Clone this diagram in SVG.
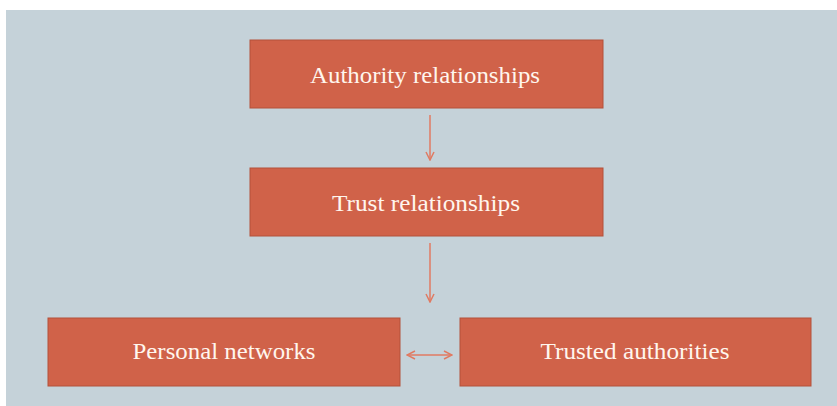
<svg xmlns="http://www.w3.org/2000/svg" width="837" height="406" viewBox="0 0 837 406">
<style>
.box{fill:#D06249;stroke:#B4503A;stroke-width:1}
.lbl{font-family:"Liberation Serif","DejaVu Serif",serif;font-size:23px;fill:#FFF6EE;text-anchor:middle}
.con{stroke:#E07A62;stroke-width:1.5;fill:none}
</style>
<defs>
<marker id="ah" viewBox="0 0 10 10" refX="9" refY="5" markerWidth="10" markerHeight="10" markerUnits="userSpaceOnUse" orient="auto-start-reverse">
<path d="M1,1 L9,5 L1,9" fill="none" stroke="#E07A62" stroke-width="1.5"/>
</marker>
</defs>
<rect x="0" y="0" width="837" height="406" fill="#FFFFFF"/>
<rect x="6" y="10" width="831" height="396" fill="#C5D2D9"/>
<g id="connectors">
<line class="con" x1="430" y1="115" x2="430" y2="160" marker-end="url(#ah)"/>
<line class="con" x1="430" y1="243" x2="430" y2="302" marker-end="url(#ah)"/>
<line class="con" x1="407" y1="355" x2="452" y2="355" marker-start="url(#ah)" marker-end="url(#ah)"/>
</g>
<g id="authority">
<rect class="box" x="250" y="40" width="353" height="68"/>
<text class="lbl" x="425" y="83" textLength="230" lengthAdjust="spacingAndGlyphs">Authority relationships</text>
</g>
<g id="trust">
<rect class="box" x="250" y="168" width="353" height="68"/>
<text class="lbl" x="426" y="211" textLength="188" lengthAdjust="spacingAndGlyphs">Trust relationships</text>
</g>
<g id="personal">
<rect class="box" x="48" y="318" width="352" height="68"/>
<text class="lbl" x="224" y="359" textLength="183" lengthAdjust="spacingAndGlyphs">Personal networks</text>
</g>
<g id="trusted">
<rect class="box" x="460" y="318" width="351" height="68"/>
<text class="lbl" x="635" y="359" textLength="189" lengthAdjust="spacingAndGlyphs">Trusted authorities</text>
</g>
</svg>
